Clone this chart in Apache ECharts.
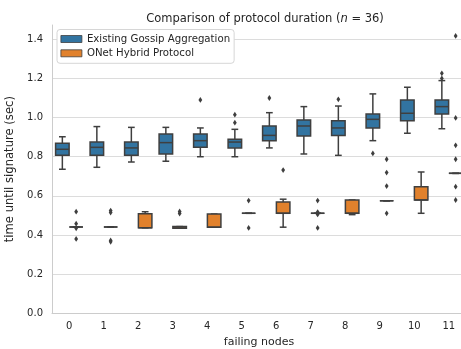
<!DOCTYPE html>
<html>
<head>
<meta charset="utf-8">
<script src="https://cdn.jsdelivr.net/npm/echarts@6/dist/echarts.min.js"></script>
<style>
  html, body { margin: 0; padding: 0; background: #ffffff; }
  #chart { width: 461px; height: 349px; }
</style>
</head>
<body>
<div id="chart"></div>
<script>
// Number of failing nodes (x categories)
const failingNodes = ['0', '1', '2', '3', '4', '5', '6', '7', '8', '9', '10', '11'];

// Five-number summaries per category: [lower whisker, Q1, median, Q3, upper whisker] in seconds
const gossipBoxes = [
  [0.736, 0.807, 0.838, 0.869, 0.902],
  [0.746, 0.807, 0.848, 0.875, 0.954],
  [0.773, 0.807, 0.845, 0.875, 0.950],
  [0.777, 0.814, 0.872, 0.916, 0.950],
  [0.800, 0.848, 0.882, 0.916, 0.947],
  [0.800, 0.845, 0.875, 0.889, 0.940],
  [0.845, 0.882, 0.909, 0.957, 1.025],
  [0.814, 0.906, 0.957, 0.988, 1.056],
  [0.807, 0.909, 0.947, 0.984, 1.059],
  [0.882, 0.947, 0.991, 1.018, 1.121],
  [0.920, 0.984, 1.022, 1.090, 1.155],
  [0.943, 1.018, 1.056, 1.090, 1.189]
];
// Outliers: [category index, seconds]
const gossipOutliers = [
  [4, 1.090],
  [5, 1.015], [5, 0.974],
  [6, 1.100],
  [8, 1.093],
  [9, 0.817],
  [11, 1.226], [11, 1.200]
];

const onetBoxes = [
  [0.441, 0.441, 0.441, 0.441, 0.441],
  [0.441, 0.441, 0.441, 0.441, 0.441],
  [0.437, 0.437, 0.437, 0.509, 0.519],
  [0.435, 0.435, 0.441, 0.443, 0.443],
  [0.440, 0.440, 0.440, 0.507, 0.507],
  [0.511, 0.511, 0.511, 0.511, 0.511],
  [0.440, 0.511, 0.511, 0.569, 0.583],
  [0.511, 0.511, 0.511, 0.511, 0.511],
  [0.504, 0.511, 0.511, 0.579, 0.579],
  [0.575, 0.575, 0.575, 0.575, 0.575],
  [0.511, 0.579, 0.579, 0.647, 0.722],
  [0.715, 0.715, 0.715, 0.715, 0.715]
];
const onetOutliers = [
  [0, 0.519], [0, 0.458], [0, 0.434], [0, 0.380],
  [1, 0.525], [1, 0.515], [1, 0.372], [1, 0.365],
  [3, 0.520], [3, 0.510],
  [5, 0.576], [5, 0.436],
  [6, 0.732],
  [7, 0.576], [7, 0.517], [7, 0.505], [7, 0.436],
  [9, 0.787], [9, 0.719], [9, 0.650], [9, 0.511],
  [11, 1.417], [11, 0.998], [11, 0.858], [11, 0.787], [11, 0.647], [11, 0.579]
];

const SERIES_NAMES = ['Existing Gossip Aggregation', 'ONet Hybrid Protocol'];
const COLORS = ['#3274a1', '#e1812c'];
const EDGE = '#3f3f3f';
const LW = 1.5;
const TEXT = '#262626';
const FONT = 'DejaVu Sans';

// hue offset within a category band, as a fraction of band width
const SHIFTS = [-0.2, 0.2];

function boxRenderer(shift, color) {
  return function (params, api) {
    const cat = api.value(0);
    const bw = api.size([1, 0])[0];
    const x = api.coord([cat, 0])[0] + shift * bw;
    const half = 0.196 * bw;
    const capHalf = half / 2;
    const y = (k) => api.coord([cat, api.value(k)])[1];
    const yMin = y(1), yQ1 = y(2), yMed = y(3), yQ3 = y(4), yMax = y(5);
    const ls = { stroke: EDGE, lineWidth: LW, fill: null };
    return {
      type: 'group',
      children: [
        { type: 'line', shape: { x1: x, y1: yQ1, x2: x, y2: yMin }, style: ls },
        { type: 'line', shape: { x1: x, y1: yQ3, x2: x, y2: yMax }, style: ls },
        { type: 'line', shape: { x1: x - capHalf, y1: yMin, x2: x + capHalf, y2: yMin }, style: ls },
        { type: 'line', shape: { x1: x - capHalf, y1: yMax, x2: x + capHalf, y2: yMax }, style: ls },
        { type: 'rect', shape: { x: x - half, y: yQ3, width: 2 * half, height: yQ1 - yQ3 },
          style: { fill: color, stroke: EDGE, lineWidth: LW } },
        { type: 'line', shape: { x1: x - half, y1: yMed, x2: x + half, y2: yMed }, style: ls }
      ]
    };
  };
}

function outlierRenderer(shift) {
  return function (params, api) {
    const bw = api.size([1, 0])[0];
    const p = api.coord([api.value(0), api.value(1)]);
    const cx = p[0] + shift * bw, cy = p[1];
    const hw = 1.9, hh = 2.9;
    return {
      type: 'polygon',
      shape: { points: [[cx, cy - hh], [cx + hw, cy], [cx, cy + hh], [cx - hw, cy]] },
      style: { fill: EDGE }
    };
  };
}

const boxSets = [gossipBoxes, onetBoxes];
const outlierSets = [gossipOutliers, onetOutliers];

const series = [];
boxSets.forEach((boxes, h) => {
  series.push({
    name: SERIES_NAMES[h],
    type: 'custom',
    renderItem: boxRenderer(SHIFTS[h], COLORS[h]),
    itemStyle: { color: COLORS[h], borderColor: EDGE, borderWidth: 1 },
    encode: { x: 0, y: [1, 2, 3, 4, 5] },
    data: boxes.map((b, i) => [i].concat(b)),
    z: 3
  });
});
outlierSets.forEach((pts, h) => {
  series.push({
    name: SERIES_NAMES[h] + ' outliers',
    type: 'custom',
    renderItem: outlierRenderer(SHIFTS[h]),
    encode: { x: 0, y: 1 },
    data: pts,
    clip: false,
    z: 4
  });
});

const chart = echarts.init(document.getElementById('chart'), null, { renderer: 'canvas' });
chart.setOption({
  animation: false,
  backgroundColor: '#ffffff',
  textStyle: { fontFamily: FONT },
  title: {
    text: '{a|Comparison of protocol duration (}{i|n}{a| = 36)}',
    left: 260,
    top: 8,
    textAlign: 'center',
    textStyle: {
      fontWeight: 'normal',
      rich: {
        a: { fontFamily: FONT, fontSize: 11.5, color: TEXT, fontWeight: 'normal' },
        i: { fontFamily: FONT, fontSize: 11.5, color: TEXT, fontStyle: 'italic', fontWeight: 'normal' }
      }
    }
  },
  legend: {
    orient: 'vertical',
    left: 57,
    top: 29.5,
    padding: [3.5, 4, 4, 3.5],
    itemGap: 2.3,
    itemWidth: 21,
    itemHeight: 7,
    itemTextGap: 8,
    backgroundColor: '#ffffff',
    borderColor: '#d6d6d6',
    borderWidth: 1,
    borderRadius: 3,
    textStyle: { fontFamily: FONT, fontSize: 10.2, color: TEXT, lineHeight: 12 },
    data: SERIES_NAMES.map((n, h) => ({
      name: n,
      icon: 'rect',
      itemStyle: { color: COLORS[h], borderColor: EDGE, borderWidth: 0.8 }
    }))
  },
  grid: { left: 52, right: -5, top: 25, bottom: 35.7, outerBoundsMode: 'none', containLabel: false },
  xAxis: {
    type: 'category',
    data: failingNodes,
    name: 'failing nodes',
    nameLocation: 'middle',
    nameGap: 21,
    nameTextStyle: { fontFamily: FONT, fontSize: 11, color: TEXT },
    axisLine: { show: true, lineStyle: { color: '#cccccc', width: 1 } },
    axisTick: { show: false },
    axisLabel: { margin: 8, fontFamily: FONT, fontSize: 10, color: TEXT },
    splitLine: { show: false }
  },
  yAxis: {
    type: 'value',
    min: 0,
    max: 1.473,
    interval: 0.2,
    name: 'time until signature (sec)',
    nameLocation: 'middle',
    nameGap: 31,
    nameTextStyle: { fontFamily: FONT, fontSize: 11.6, color: TEXT },
    axisLine: { show: true, lineStyle: { color: '#cccccc', width: 1 } },
    axisTick: { show: false },
    axisLabel: {
      margin: 9, fontFamily: FONT, fontSize: 10, color: TEXT,
      showMaxLabel: false,
      formatter: (v) => v.toFixed(1)
    },
    splitLine: { show: true, showMaxLine: false, lineStyle: { color: '#dcdcdc', width: 1 } }
  },
  series: series
});
</script>
</body>
</html>
